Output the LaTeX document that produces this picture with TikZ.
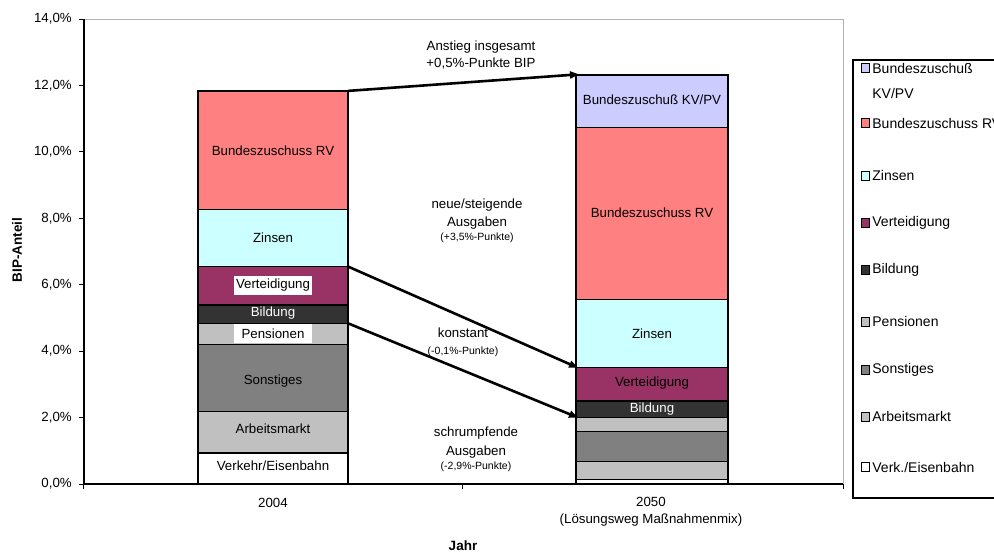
\documentclass[tikz,border=0pt]{standalone}
\usepackage{fontspec}
\setmainfont{Liberation Sans}
\usetikzlibrary{arrows.meta,positioning}
\definecolor{kvpv}{HTML}{CCCCFF}
\definecolor{rv}{HTML}{FF8080}
\definecolor{zins}{HTML}{CCFFFF}
\definecolor{vert}{HTML}{993366}
\definecolor{bild}{HTML}{333333}
\definecolor{hell}{HTML}{C0C0C0}
\definecolor{dunkel}{HTML}{808080}

\begin{document}
\begin{tikzpicture}[x=1pt, y=33.2pt, font=\fontsize{13.3}{17}\selectfont,
  seg/.style = {draw=black, line width=1.3pt},
  box/.style = {fill=white, inner sep=0pt, minimum width=78pt, minimum height=19pt},
  small/.style = {font=\fontsize{10.5}{12}\selectfont},
  pfeil/.style = {-{Triangle[length=9pt,width=7pt]}, line width=2.6pt},
  legbox/.style = {draw=black, line width=0.9pt, minimum size=8.5pt, inner sep=0pt},
  legtext/.style = {font=\fontsize{14}{25}\selectfont, inner sep=0pt, align=left}]
\useasboundingbox (-84pt,-68pt) rectangle (910pt,484pt);
\draw[gray!60, line width=1pt] (0,14) -- (759,14) -- (759,0);
\draw[line width=1.4pt] (0,14) -- (0,0) -- (759,0);
\foreach \v in {0,2,...,14} {
  \draw[line width=1pt] (-5pt,\v) -- (0,\v);
  \node[anchor=east, inner sep=0pt] (y\v) at (-12pt,\v) {\v,0\%};
}
\foreach \x in {0,378,759}
  \draw[line width=1pt] (\x,0) -- (\x,-5pt);

\draw[seg, fill=white] (114,0) rectangle (264,0.93);
\draw[seg, fill=hell] (114,0.93) rectangle (264,2.18);
\draw[seg, fill=dunkel] (114,2.18) rectangle (264,4.20);
\draw[seg, fill=hell] (114,4.20) rectangle (264,4.84);
\draw[seg, fill=bild] (114,4.84) rectangle (264,5.39);
\draw[seg, fill=vert] (114,5.39) rectangle (264,6.55);
\draw[seg, fill=zins] (114,6.55) rectangle (264,8.27);
\draw[seg, fill=rv] (114,8.27) rectangle (264,11.84);

\draw[seg, fill=white] (492,0) rectangle (644,0.14);
\draw[seg, fill=hell] (492,0.14) rectangle (644,0.67);
\draw[seg, fill=dunkel] (492,0.67) rectangle (644,1.58);
\draw[seg, fill=hell] (492,1.58) rectangle (644,2.00);
\draw[seg, fill=bild] (492,2.00) rectangle (644,2.50);
\draw[seg, fill=vert] (492,2.50) rectangle (644,3.50);
\draw[seg, fill=zins] (492,3.50) rectangle (644,5.56);
\draw[seg, fill=rv] (492,5.56) rectangle (644,10.74);
\draw[seg, fill=kvpv] (492,10.74) rectangle (644,12.32);

\node (l1) at (189,0.55) {Verkehr/Eisenbahn};
\node (l2) at (189,1.66) {Arbeitsmarkt};
\node (l3) at (189,3.10) {Sonstiges};
\node[box] (l4) at (189,4.54) {Pensionen};
\node[text=white] (l5) at (189,5.14) {Bildung};
\node[box] (l6) at (189,5.99) {Verteidigung};
\node (l7) at (189,7.41) {Zinsen};
\node (l8) at (189,10.04) {Bundeszuschuss RV};

\node[text=white] (r5) at (568,2.25) {Bildung};
\node (r6) at (568,3.03) {Verteidigung};
\node (r7) at (568,4.54) {Zinsen};
\node (r8) at (568,8.17) {Bundeszuschuss RV};
\node (r9) at (568,11.57) {Bundeszuschuß KV/PV};

\coordinate (l-rv) at (264,11.84);
\coordinate (r-kv) at (495,12.34);
\coordinate (l-zins) at (264,6.55);
\coordinate (r-vert) at (494,3.50);
\coordinate (l-pens) at (264,4.84);
\coordinate (r-bild) at (494,2.00);
\draw[pfeil] (l-rv) -- (r-kv);
\draw[pfeil] (l-zins) -- (r-vert);
\draw[pfeil] (l-pens) -- (r-bild);

\node[align=center] (anstieg) at (397,12.91) {Anstieg insgesamt\\+0,5\%-Punkte BIP};
\node (neu1) at (393,8.40) {neue/steigende};
\node (neu2) at (393,7.86) {Ausgaben};
\node[small] (neu3) at (393,7.41) {(+3,5\%-Punkte)};
\node (konst1) at (379,4.55) {konstant};
\node[small] (konst2) at (379,3.98) {(-0,1\%-Punkte)};
\node (schr1) at (392,1.54) {schrumpfende};
\node (schr2) at (392,0.96) {Ausgaben};
\node[small] (schr3) at (392,0.51) {(-2,9\%-Punkte)};

\node (x1) at (189,-19pt) {2004};
\node[align=center] (x2) at (567,-28pt) {2050\\(Lösungsweg Maßnahmenmix)};
\node[font=\fontsize{13.5}{16}\bfseries] (xachse) at (379,-62pt) {Jahr};
\node[rotate=90, font=\fontsize{13.5}{16}\bfseries] (yachse) at (-67pt,7.05) {BIP-Anteil};

\draw[line width=1.2pt] (769,-14pt) rectangle (930,424pt);
\node[legbox, fill=kvpv] (m1) at (781.5,12.53) {};
\node[legbox, fill=rv] (m2) at (781.5,10.87) {};
\node[legbox, fill=zins] (m3) at (781.5,9.28) {};
\node[legbox, fill=vert] (m4) at (781.5,7.86) {};
\node[legbox, fill=bild] (m5) at (781.5,6.45) {};
\node[legbox, fill=hell] (m6) at (781.5,4.88) {};
\node[legbox, fill=dunkel] (m7) at (781.5,3.43) {};
\node[legbox, fill=hell] (m8) at (781.5,2.02) {};
\node[legbox, fill=white] (m9) at (781.5,0.51) {};
\node[legtext, anchor=north west] (t1) at ([xshift=2pt, yshift=0.5pt]m1.north east) {Bundeszuschuß\\KV/PV};
\node[legtext, right=2pt of m2] (t2) {Bundeszuschuss RV};
\node[legtext, right=2pt of m3] (t3) {Zinsen};
\node[legtext, right=2pt of m4] (t4) {Verteidigung};
\node[legtext, right=2pt of m5] (t5) {Bildung};
\node[legtext, right=2pt of m6] (t6) {Pensionen};
\node[legtext, right=2pt of m7] (t7) {Sonstiges};
\node[legtext, right=2pt of m8] (t8) {Arbeitsmarkt};
\node[legtext, right=2pt of m9] (t9) {Verk./Eisenbahn};
\end{tikzpicture}
\end{document}
